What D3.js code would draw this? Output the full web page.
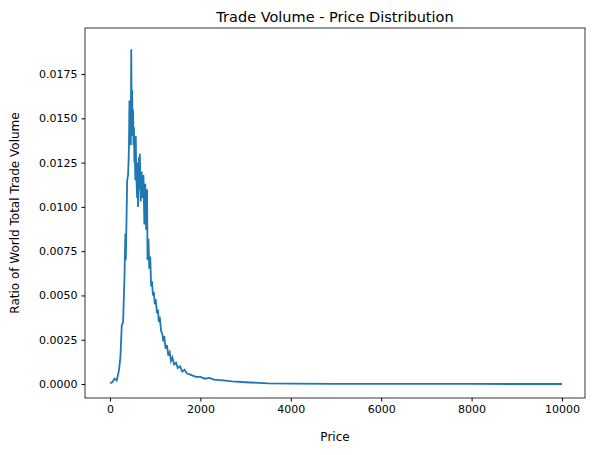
<!DOCTYPE html>
<html><head><meta charset="utf-8">
<script src="https://cdn.jsdelivr.net/npm/d3@7"></script>
<style>body{margin:0;background:#fff}svg{font-family:"DejaVu Sans",sans-serif}</style>
</head><body><div class="container"></div>
<script>
const w = 593, h = 455
const m = {left: 85, right: 8, top: 28, bottom: 57}

const prices = [0,50,100,150,200,230,260,290,320,340,350,370,380,400,410,420,430,440,450,460,470,480,490,500,510,520,530,540,550,560,570,580,600,610,620,640,650,660,680,700,720,740,760,780,800,820,830,850,870,890,910,930,950,970,990,1010,1040,1060,1080,1100,1130,1160,1180,1200,1230,1260,1290,1320,1350,1380,1420,1460,1500,1550,1600,1650,1700,1800,1900,2000,2100,2200,2300,2500,2700,3000,3500,4000,5000,6000,8000,10000]
const ratios = [0.00005,0.0001,0.0003,0.0002,0.0008,0.0015,0.0033,0.0035,0.006,0.0085,0.007,0.01,0.0115,0.0118,0.0125,0.0135,0.016,0.0145,0.0155,0.0135,0.0189,0.015,0.0166,0.014,0.0155,0.0135,0.0145,0.0125,0.013,0.0115,0.014,0.012,0.0105,0.0125,0.01,0.0128,0.011,0.013,0.0103,0.012,0.0105,0.0118,0.009,0.0113,0.0087,0.011,0.007,0.0082,0.0065,0.0072,0.0055,0.0058,0.005,0.0052,0.0045,0.0048,0.004,0.0042,0.0035,0.0038,0.003,0.0028,0.0024,0.0027,0.002,0.0022,0.0016,0.0018,0.0013,0.0015,0.0011,0.0012,0.0009,0.001,0.0007,0.0008,0.0006,0.0005,0.0004,0.0004,0.0003,0.00035,0.00025,0.0002,0.00015,0.0001,0.00004,0.00002,0.00001,0.000005,0.000002,0.000001]
const xTicks = [0,2000,4000,6000,8000,10000]
const yTicks = [0,0.0025,0.005,0.0075,0.01,0.0125,0.015,0.0175]

const svg = d3.select('.container').append('svg').attr('width', w).attr('height', h)

const x = d3.scaleLinear().domain([-553, 10509]).range([m.left, w - m.right])
const y = d3.scaleLinear().domain([-0.00079, 0.0201]).range([h - m.bottom, m.top])

svg.append('g').attr('transform', `translate(0,${h - m.bottom})`)
  .call(d3.axisBottom(x).tickValues(xTicks).tickFormat(d3.format('d')).tickSizeOuter(0).tickSize(3.5).tickPadding(4))
svg.append('g').attr('transform', `translate(${m.left},0)`)
  .call(d3.axisLeft(y).tickValues(yTicks).tickFormat(d3.format('.4f')).tickSizeOuter(0).tickSize(3.5).tickPadding(4))
svg.selectAll('.tick text').attr('font-size', 11).attr('fill', '#000').attr('font-family', 'DejaVu Sans')
svg.selectAll('.domain').remove()

svg.append('rect').attr('x', m.left).attr('y', m.top)
  .attr('width', w - m.left - m.right).attr('height', h - m.top - m.bottom)
  .attr('fill', 'none').attr('stroke', '#000').attr('stroke-width', 0.8)

const line = d3.line().x((d, i) => x(prices[i])).y(d => y(d))
svg.append('path').datum(ratios).attr('d', line)
  .attr('fill', 'none').attr('stroke', '#1f77b4').attr('stroke-width', 1.8)

svg.append('text').text('Trade Volume - Price Distribution')
  .attr('x', (m.left + w - m.right) / 2).attr('y', 22).attr('text-anchor', 'middle').attr('font-size', 14.5)
svg.append('text').text('Price')
  .attr('x', (m.left + w - m.right) / 2).attr('y', 441).attr('text-anchor', 'middle').attr('font-size', 12)
svg.append('text').text('Ratio of World Total Trade Volume')
  .attr('transform', `translate(19,${(m.top + h - m.bottom) / 2}) rotate(-90)`).attr('text-anchor', 'middle').attr('font-size', 12)
</script></body></html>
